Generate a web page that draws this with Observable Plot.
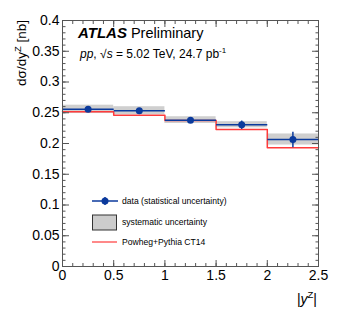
<!DOCTYPE html>
<html><head><meta charset="utf-8">
<script src="https://cdn.jsdelivr.net/npm/d3@7"></script>
<script src="https://cdn.jsdelivr.net/npm/@observablehq/plot@0.6"></script>
<style>body{margin:0;background:#fff;} svg{display:block}</style>
</head><body><div id="chart"></div>
<script>
const binLo = [0, 0.5, 1.0, 1.5, 2.0];
const binHi = [0.5, 1.0, 1.5, 2.0, 2.5];
const binCenter = [0.25, 0.75, 1.25, 1.75, 2.25];
const dataValue = [0.2555, 0.2533, 0.2380, 0.2305, 0.2065];
const statErr = [0.003, 0.003, 0.003, 0.0068, 0.0125];
const systErr = [0.0068, 0.0065, 0.0055, 0.005, 0.009];
const mcValue = [0.2515, 0.2460, 0.2375, 0.2228, 0.1930];
const xTicks = [0, 0.5, 1, 1.5, 2, 2.5];
const xTickLabels = ["0", "0.5", "1", "1.5", "2", "2.5"];
const yTicks = [0, 0.05, 0.1, 0.15, 0.2, 0.25, 0.3, 0.35, 0.4];
const yTickLabels = ["0", "0.05", "0.1", "0.15", "0.2", "0.25", "0.3", "0.35", "0.4"];
const xMinor = d3.range(0, 26).map(i => i / 10);
const yMinor = d3.range(0, 41).map(i => i / 100);

const bins = binLo.map((lo, i) => ({lo, hi: binHi[i], c: binCenter[i], v: dataValue[i], stat: statErr[i], syst: systErr[i], mc: mcValue[i]}));
const stepPts = bins.map(b => ({x: b.lo, y: b.mc})).concat([{x: binHi[binHi.length - 1], y: mcValue[mcValue.length - 1]}]);

const blue = "#0b3a9c", red = "#ff3b3b", axisCol = "#555";
const noText = () => "";

const svg = Plot.plot({
  width: 349, height: 318,
  marginLeft: 62, marginRight: 31, marginTop: 20, marginBottom: 52,
  style: {fontFamily: "'Liberation Sans', Arial, sans-serif", fontSize: "14px", color: "black", background: "white"},
  x: {domain: [0, 2.5], axis: null},
  y: {domain: [0, 0.4], axis: null},
  marks: [
    Plot.rect(bins, {x1: "lo", x2: "hi", y1: d => d.v - d.syst, y2: d => d.v + d.syst, fill: "#cfcfcf"}),
    Plot.line(stepPts, {x: "x", y: "y", curve: "step-after", stroke: red, strokeWidth: 1.5}),
    Plot.link(bins, {x1: "lo", x2: "hi", y1: "v", y2: "v", stroke: blue, strokeWidth: 1.5}),
    Plot.link(bins, {x1: "c", x2: "c", y1: d => d.v - d.stat, y2: d => d.v + d.stat, stroke: blue, strokeWidth: 1.5}),
    Plot.dot(bins, {x: "c", y: "v", r: 3.5, fill: blue, stroke: "none"}),
    Plot.frame({stroke: axisCol}),
    Plot.axisY(yTicks, {anchor: "left", tickSize: -7, tickPadding: 10, tickFormat: d => yTickLabels[yTicks.indexOf(d)], stroke: axisCol, label: null}),
    Plot.axisY(yMinor, {anchor: "left", tickSize: -3.5, tickFormat: noText, stroke: axisCol, label: null}),
    Plot.axisY(yTicks, {anchor: "right", tickSize: -7, tickFormat: noText, stroke: axisCol, label: null}),
    Plot.axisY(yMinor, {anchor: "right", tickSize: -3.5, tickFormat: noText, stroke: axisCol, label: null}),
    Plot.axisX(xTicks, {anchor: "bottom", tickSize: -6, tickPadding: 10, tickFormat: d => xTickLabels[xTicks.indexOf(d)], stroke: axisCol, label: null}),
    Plot.axisX(xMinor, {anchor: "bottom", tickSize: -3, tickFormat: noText, stroke: axisCol, label: null}),
    Plot.axisX(xTicks, {anchor: "top", tickSize: -6, tickFormat: noText, stroke: axisCol, label: null}),
    Plot.axisX(xMinor, {anchor: "top", tickSize: -3, tickFormat: noText, stroke: axisCol, label: null})
  ]
});
document.getElementById("chart").appendChild(svg);

const s = d3.select(svg);
const ff = "'Liberation Sans', Arial, sans-serif";
// y axis title
const yt = s.append("text").attr("transform", "translate(26,20) rotate(-90)").attr("text-anchor", "end")
  .attr("font-family", ff).attr("font-size", 13.5).attr("fill", "black");
yt.append("tspan").text("dσ/dy");
yt.append("tspan").attr("dy", -5).attr("font-size", 9.5).text("Z");
yt.append("tspan").attr("dy", 5).text(" [nb]");
// x axis title
const xt = s.append("text").attr("x", 317).attr("y", 304).attr("text-anchor", "end")
  .attr("font-family", ff).attr("font-size", 14).attr("fill", "black");
xt.append("tspan").text("|");
xt.append("tspan").attr("font-style", "italic").text("y");
xt.append("tspan").attr("dy", -6).attr("font-size", 9.5).text("Z");
xt.append("tspan").attr("dy", 6).text("|");
// ATLAS label
const at = s.append("text").attr("x", 78).attr("y", 38).attr("text-anchor", "start").attr("font-family", ff).attr("font-size", 15).attr("fill", "black");
at.append("tspan").attr("font-weight", "bold").attr("font-style", "italic").text("ATLAS");
at.append("tspan").attr("font-size", 14.5).text(" Preliminary");
const en = s.append("text").attr("x", 80).attr("y", 58).attr("text-anchor", "start").attr("font-family", ff).attr("font-size", 12).attr("fill", "black");
en.append("tspan").attr("font-style", "italic").text("pp");
en.append("tspan").text(", √");
en.append("tspan").attr("font-style", "italic").text("s");
en.append("tspan").text(" = 5.02 TeV, 24.7 pb");
en.append("tspan").attr("dy", -5).attr("font-size", 8).text("-1");
// legend
const lg = s.append("g").attr("font-family", ff).attr("font-size", 8.6).attr("fill", "black").attr("text-anchor", "start");
lg.append("line").attr("x1", 92).attr("x2", 118).attr("y1", 201).attr("y2", 201).attr("stroke", blue).attr("stroke-width", 1.5);
lg.append("line").attr("x1", 105).attr("x2", 105).attr("y1", 197).attr("y2", 205).attr("stroke", blue).attr("stroke-width", 1.5);
lg.append("circle").attr("cx", 105).attr("cy", 201).attr("r", 3.5).attr("fill", blue);
lg.append("text").attr("x", 122).attr("y", 204).text("data (statistical uncertainty)");
lg.append("rect").attr("x", 92.5).attr("y", 215).attr("width", 24).attr("height", 15).attr("fill", "#cccccc").attr("stroke", "#333").attr("stroke-width", 1);
lg.append("text").attr("x", 122).attr("y", 225).text("systematic uncertainty");
lg.append("line").attr("x1", 92).attr("x2", 117).attr("y1", 242).attr("y2", 242).attr("stroke", red).attr("stroke-width", 1.2);
lg.append("text").attr("x", 122).attr("y", 245).text("Powheg+Pythia CT14");
</script>
</body></html>
